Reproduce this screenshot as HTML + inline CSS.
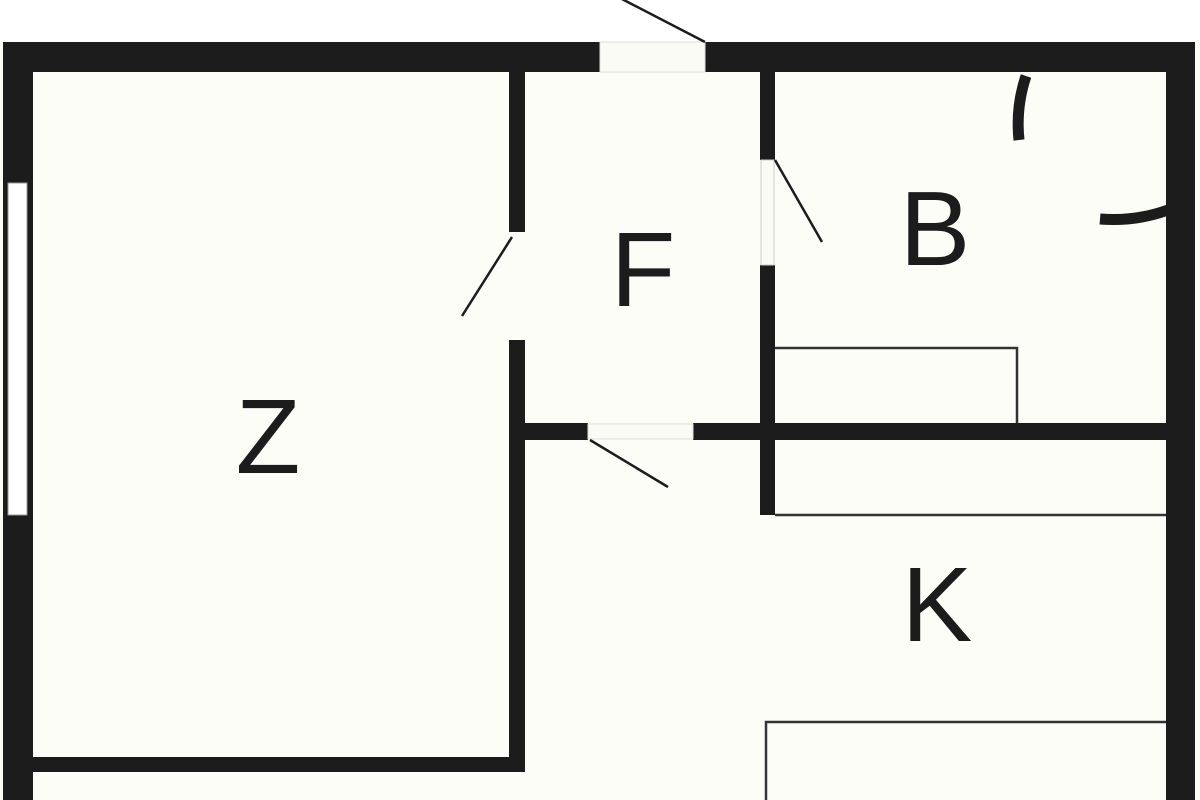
<!DOCTYPE html>
<html><head><meta charset="utf-8"><style>
html,body{margin:0;padding:0;background:#fff;}
svg{display:block}
text{font-family:"Liberation Sans",sans-serif;font-size:106px;fill:#1c1c1c;text-anchor:middle}
</style></head><body>
<svg width="1200" height="800" viewBox="0 0 1200 800">
<rect x="0" y="42" width="1200" height="758" fill="#fdfdf8"/>
<g fill="#1c1c1c">
<!-- top wall -->
<rect x="3" y="42" width="597" height="30"/>
<rect x="705" y="42" width="490" height="30"/>
<!-- left wall -->
<rect x="3" y="42" width="30" height="758"/>
<!-- right wall -->
<rect x="1166" y="42" width="29" height="758"/>
<!-- Z/F wall -->
<rect x="509" y="72" width="16" height="160"/>
<rect x="509" y="340" width="16" height="432"/>
<!-- Z bottom -->
<rect x="33" y="757" width="492" height="15"/>
<!-- F/B wall -->
<rect x="760" y="72" width="15" height="88"/>
<rect x="760" y="265" width="15" height="250"/>
<!-- horizontal -->
<rect x="525" y="423" width="63" height="17"/>
<rect x="693" y="423" width="473" height="17"/>
</g>
<!-- window left -->
<rect x="8" y="183" width="19" height="332" fill="#fff" stroke="#999" stroke-width="1"/>
<!-- openings -->
<rect x="600" y="42" width="105" height="30" fill="#fbfbf6" stroke="#ddd" stroke-width="1"/>
<rect x="761" y="160" width="13" height="105" fill="#fbfbf6" stroke="#ccc" stroke-width="1"/>
<rect x="588" y="424" width="105" height="15" fill="#fbfbf6" stroke="#ddd" stroke-width="1"/>
<!-- door leaves -->
<g stroke="#1c1c1c" stroke-width="2.5" fill="none">
<line x1="705" y1="42" x2="620" y2="-2"/>
<line x1="512" y1="237" x2="462" y2="316"/>
<line x1="775" y1="160" x2="822" y2="242"/>
<line x1="590" y1="440" x2="668" y2="487"/>
</g>
<!-- fixtures -->
<g stroke="#333" stroke-width="2.5" fill="none">
<polyline points="775,348 1017,348 1017,423"/>
<line x1="775" y1="515" x2="1166" y2="515"/>
<polyline points="766,800 766,722 1166,722"/>
</g>
<!-- shower arcs: circle centered (1168,72) r=165 -->
<g stroke="#1c1c1c" stroke-width="11" fill="none">
<path d="M1026,76 A152,152 0 0 0 1019,140"/>
<path d="M1100,219 A162,162 0 0 0 1168,210"/>
</g>
<text x="268" y="473">Z</text>
<text x="643" y="306">F</text>
<text x="935" y="265">B</text>
<text x="937" y="641">K</text>
</svg>
</body></html>
